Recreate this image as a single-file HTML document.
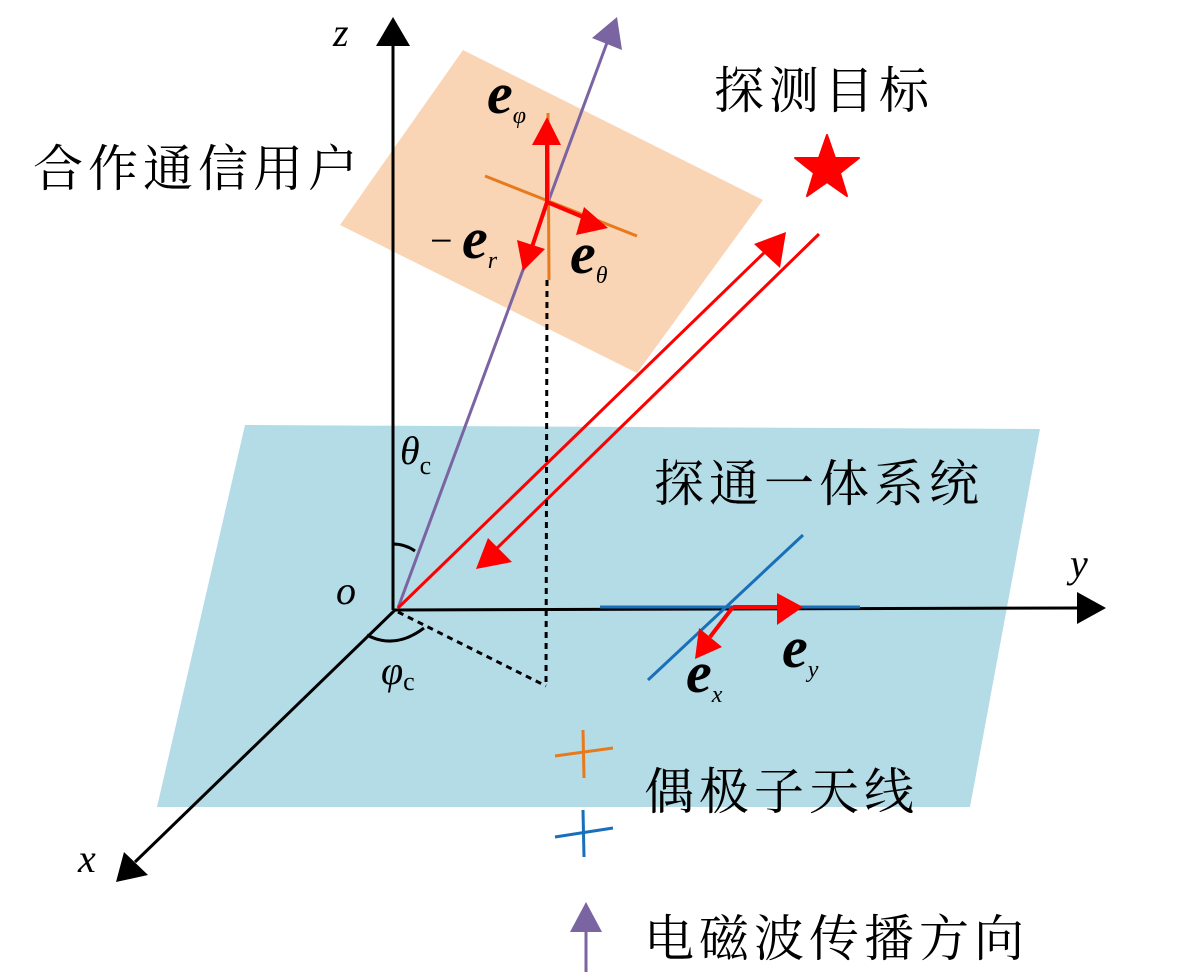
<!DOCTYPE html>
<html><head><meta charset="utf-8"><style>
html,body{margin:0;padding:0;background:#fff;}
svg{display:block;}
.cn{font-family:"Liberation Serif","Noto Serif CJK SC","Noto Sans CJK SC",serif;font-size:50px;letter-spacing:5px;fill:#000;}
.m{font-family:"Liberation Serif",serif;font-style:italic;fill:#000;}
.b{font-family:"Liberation Serif",serif;font-style:italic;font-weight:bold;fill:#000;}
.s{font-family:"Liberation Serif",serif;font-style:italic;font-weight:normal;font-size:24px;}
</style></head><body>
<svg width="1181" height="974" viewBox="0 0 1181 974" xmlns="http://www.w3.org/2000/svg">
<polygon points="245,425 1040,429 970,807 157,807" fill="#b4dce6"/>
<polygon points="463,50 763,200 637,373 340,225" fill="#f9d5b6"/>
<line x1="393" y1="610" x2="393" y2="45" stroke="#000" stroke-width="3"/>
<polygon points="393,17 376,46 410,46" fill="#000"/>
<line x1="393" y1="610" x2="1080" y2="608" stroke="#000" stroke-width="3"/>
<polygon points="1106,608 1077,592 1077,624" fill="#000"/>
<line x1="395" y1="610" x2="135" y2="862" stroke="#000" stroke-width="3"/>
<polygon points="116,882 124,852 148,875" fill="#000"/>
<line x1="398" y1="608" x2="608" y2="40" stroke="#7b64a2" stroke-width="3"/>
<polygon points="617,17 592,38 622,50" fill="#7b64a2"/>
<line x1="398" y1="608" x2="770" y2="247" stroke="#f00" stroke-width="3"/>
<polygon points="786,232 754,244 780,268" fill="#f00"/>
<line x1="819" y1="234" x2="492" y2="553" stroke="#f00" stroke-width="3"/>
<polygon points="476,569 488,538 512,562" fill="#f00"/>
<polygon points="827,135 835,158 859,158 840,173 847,196 827,182 807,196 814,173 795,158 819,158" fill="#f00" stroke="#f00" stroke-width="2" stroke-linejoin="round"/>
<line x1="547" y1="280" x2="546" y2="686" stroke="#000" stroke-width="3" stroke-dasharray="6,5"/>
<line x1="398" y1="612" x2="546" y2="686" stroke="#000" stroke-width="3" stroke-dasharray="6,5"/>
<path d="M393,544 Q405,544 415,551" fill="none" stroke="#000" stroke-width="3"/>
<path d="M367,635 Q395,650 424,628" fill="none" stroke="#000" stroke-width="3"/>
<line x1="485" y1="176" x2="637" y2="236" stroke="#e87a1e" stroke-width="3"/>
<line x1="548" y1="113" x2="549" y2="280" stroke="#e87a1e" stroke-width="3"/>
<line x1="547" y1="202" x2="547" y2="140" stroke="#f00" stroke-width="4"/>
<polygon points="547,117 532,145 561,145" fill="#f00"/>
<line x1="547" y1="202" x2="590" y2="220" stroke="#f00" stroke-width="4"/>
<polygon points="608,228 584,207 576,235" fill="#f00"/>
<line x1="547" y1="202" x2="531" y2="250" stroke="#f00" stroke-width="4"/>
<polygon points="523,271 517,240 545,249" fill="#f00"/>
<line x1="600" y1="607" x2="860" y2="607" stroke="#1a6fba" stroke-width="3"/>
<line x1="648" y1="680" x2="803" y2="535" stroke="#1a6fba" stroke-width="3"/>
<line x1="733" y1="607" x2="780" y2="607" stroke="#f00" stroke-width="4"/>
<polygon points="803,607 777,593 777,625" fill="#f00"/>
<line x1="733" y1="607" x2="710" y2="637" stroke="#f00" stroke-width="4"/>
<polygon points="695,659 699,628 722,647" fill="#f00"/>
<line x1="555" y1="756" x2="613" y2="748" stroke="#e87a1e" stroke-width="3"/>
<line x1="583" y1="730" x2="584" y2="778" stroke="#e87a1e" stroke-width="3"/>
<line x1="555" y1="837" x2="613" y2="828" stroke="#1a6fba" stroke-width="3"/>
<line x1="583" y1="810" x2="584" y2="857" stroke="#1a6fba" stroke-width="3"/>
<polygon points="586,902 570,932 602,932" fill="#7b64a2"/>
<line x1="586" y1="930" x2="586" y2="972" stroke="#7b64a2" stroke-width="3"/>
<text class="cn" x="33" y="186">合作通信用户</text>
<text class="cn" x="714" y="108">探测目标</text>
<text class="cn" x="654" y="501">探通一体系统</text>
<text class="cn" x="644" y="809">偶极子天线</text>
<text class="cn" x="644" y="956">电磁波传播方向</text>
<text class="m" x="333" y="46" font-size="40">z</text>
<text class="m" x="1070" y="577" font-size="40">y</text>
<text class="m" x="78" y="872" font-size="40">x</text>
<text class="m" x="336" y="604" font-size="40">o</text>
<text class="m" x="400" y="464" font-size="40">θ<tspan font-style="normal" font-size="26" dy="10">c</tspan></text>
<text class="m" x="381" y="684" font-size="40">φ<tspan font-style="normal" font-size="26" dy="6">c</tspan></text>
<text class="b" x="487" y="113" font-size="58">e<tspan class="s" dy="10">φ</tspan></text>
<text x="430" y="254" font-family="Liberation Serif,serif" font-size="40">−</text>
<text class="b" x="462" y="258" font-size="58">e<tspan class="s" dy="10">r</tspan></text>
<text class="b" x="570" y="273" font-size="58">e<tspan class="s" dy="10">θ</tspan></text>
<text class="b" x="782" y="667" font-size="58">e<tspan class="s" dy="10">y</tspan></text>
<text class="b" x="686" y="692" font-size="58">e<tspan class="s" dy="10">x</tspan></text>
</svg>
</body></html>
